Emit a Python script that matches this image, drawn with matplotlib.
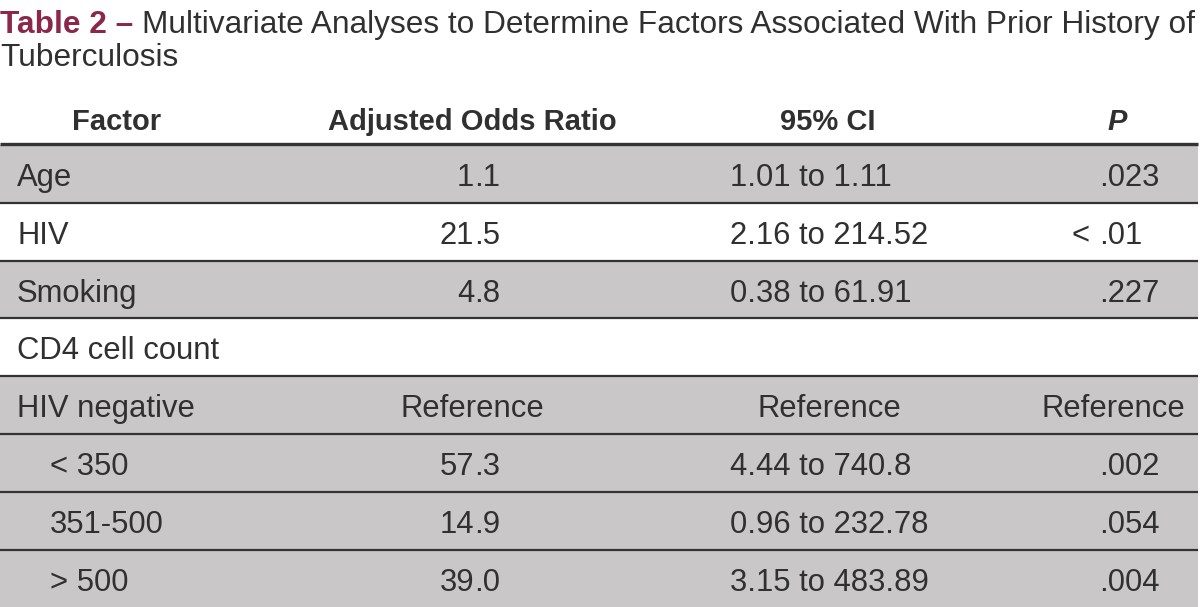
import matplotlib
matplotlib.use("Agg")
import matplotlib.pyplot as plt
from matplotlib.patches import Rectangle

plt.rcParams['font.family'] = ['Liberation Sans', 'DejaVu Sans']

title_bold = "Table 2 \u2013"
title_line1 = "Multivariate Analyses to Determine Factors Associated With Prior History of"
title_line2 = "Tuberculosis"

headers = ["Factor", "Adjusted Odds Ratio", "95% CI", "P"]
factors = ["Age", "HIV", "Smoking", "CD4 cell count", "HIV negative", "< 350", "351-500", "> 500"]
odds = ["1.1", "21.5", "4.8", "", "Reference", "57.3", "14.9", "39.0"]
ci = ["1.01 to 1.11", "2.16 to 214.52", "0.38 to 61.91", "", "Reference",
      "4.44 to 740.8", "0.96 to 232.78", "3.15 to 483.89"]
pvals = [".023", "< .01", ".227", "", "Reference", ".002", ".054", ".004"]
indented = [False, False, False, False, False, True, True, True]
shaded = [True, False, True, False, True, True, True, True]

W, H = 1200, 607
fig = plt.figure(figsize=(W / 100, H / 100), dpi=100)
ax = fig.add_axes([0, 0, 1, 1])
ax.set_xlim(0, W)
ax.set_ylim(H, 0)
ax.axis("off")

MAROON = "#8b2748"
TXT = "#303030"
GRAY = "#c9c7c8"
LINE = "#333333"
FS = 22.3
HFS = 21
TFS = 22.8

# title
t1 = ax.text(0, 33, title_bold, fontsize=TFS, fontweight="bold", color=MAROON, va="baseline", ha="left")
fig.canvas.draw()
r = fig.canvas.get_renderer()
bb = t1.get_window_extent(r)
ax.text(bb.x1 + 9, 33, title_line1, fontsize=TFS, color=TXT, va="baseline", ha="left")
ax.text(0, 66, title_line2, fontsize=TFS, color=TXT, va="baseline", ha="left")

# header
hx = [117, 472, 828, 1117]
for i, h in enumerate(headers):
    ax.text(hx[i], 130, h, fontsize=HFS, fontweight="bold", color=TXT, ha="center", va="baseline",
            style="italic" if h == "P" else "normal")

top = 145
rh = 57.8
ax.plot([0, 1198], [143.5, 143.5], color=LINE, lw=2.4, solid_capstyle="butt")


def dec_text(x, y, s):
    if "." in s:
        k = s.index(".")
        pre, post = s[:k], s[k:]
        if pre:
            ax.text(x, y, pre, fontsize=FS, color=TXT, ha="right", va="baseline")
        ax.text(x, y, post, fontsize=FS, color=TXT, ha="left", va="baseline")
    else:
        ax.text(x, y, s, fontsize=FS, color=TXT, ha="left", va="baseline")


for i in range(len(factors)):
    y0 = top + i * rh
    if shaded[i]:
        ax.add_patch(Rectangle((0, y0), 1198, rh, facecolor=GRAY, edgecolor="none", zorder=0))
    if i > 0:
        ax.plot([0, 1198], [y0, y0], color=LINE, lw=1.6, solid_capstyle="butt", zorder=2)
    yb = y0 + 41
    ax.text(50 if indented[i] else 17, yb, factors[i], fontsize=FS, color=TXT, ha="left", va="baseline")
    if odds[i] == "Reference":
        ax.text(472, yb, odds[i], fontsize=FS, color=TXT, ha="center", va="baseline")
    elif odds[i]:
        dec_text(474, yb, odds[i])
    if ci[i] == "Reference":
        ax.text(829, yb, ci[i], fontsize=FS, color=TXT, ha="center", va="baseline")
    elif ci[i]:
        ax.text(730, yb, ci[i], fontsize=FS, color=TXT, ha="left", va="baseline")
    if pvals[i] == "Reference":
        ax.text(1113, yb, pvals[i], fontsize=FS, color=TXT, ha="center", va="baseline")
    elif pvals[i]:
        dec_text(1099, yb, pvals[i])

fig.savefig("out.png", dpi=100)
